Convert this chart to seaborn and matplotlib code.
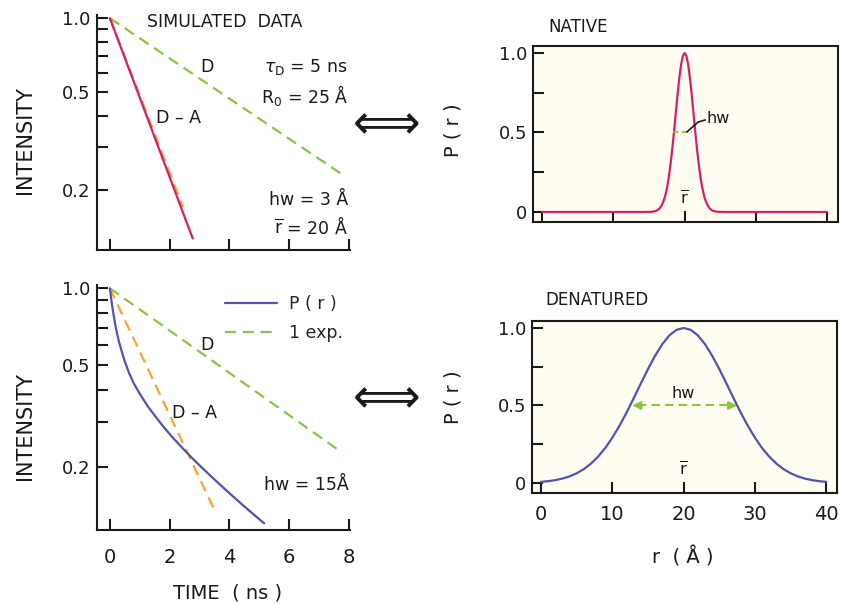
import matplotlib
matplotlib.use("Agg")
import matplotlib.pyplot as plt
import seaborn as sns

sns.set_style("ticks")
plt.rcParams['font.family'] = ['DejaVu Sans']
plt.rcParams['mathtext.fontset'] = 'dejavusans'

# ---------------- data ----------------
# top-left: simulated decays, narrow distribution (hw = 3 A)
t_D_top = [0.0, 7.8]
I_D_top = [1.0, 0.23]
t_DA_top = [0.0, 1.0, 2.77]
I_DA_top = [1.0, 0.475, 0.127]
t_exp_top = [0.0, 2.45]
I_exp_top = [1.0, 0.17]

# bottom-left: broad distribution (hw = 15 A)
t_D_bot = [0.0, 7.72]
I_D_bot = [1.0, 0.229]
t_Pr_bot = [0.0, 0.05, 0.1, 0.2, 0.3, 0.48, 0.65, 0.81, 1.0, 1.26, 1.48, 1.75,
            2.04, 2.35, 2.71, 3.05, 3.38, 3.72, 4.05, 4.4, 4.72, 5.16]
I_Pr_bot = [1.0, 0.900, 0.820, 0.700, 0.620, 0.524, 0.463, 0.422, 0.386, 0.346, 0.3195,
            0.291, 0.265, 0.242, 0.2185, 0.1997, 0.1836, 0.1686, 0.1555, 0.143, 0.1327,
            0.120]
t_exp_bot = [0.0, 3.49]
I_exp_bot = [1.0, 0.136]

# top-right: native P(r)
r_nat = [0, 14, 15, 15.5, 16, 16.25, 16.5, 16.75, 17, 17.25, 17.5, 17.75, 18, 18.25,
         18.5, 18.75, 19, 19.25, 19.5, 19.75, 20,
         20.25, 20.5, 20.75, 21, 21.25, 21.5, 21.75, 22, 22.25, 22.5, 22.75, 23,
         23.25, 23.5, 23.75, 24, 24.5, 25, 26, 40]
P_nat = [0, 0, 0.0005, 0.002, 0.007, 0.013, 0.023, 0.039, 0.063, 0.097, 0.146, 0.210,
         0.292, 0.389, 0.5, 0.618, 0.735, 0.841, 0.926, 0.981, 1.0,
         0.981, 0.926, 0.841, 0.735, 0.618, 0.5, 0.389, 0.292, 0.210, 0.146, 0.097, 0.063,
         0.039, 0.023, 0.013, 0.007, 0.002, 0.0005, 0, 0]

# bottom-right: denatured P(r)
r_den = list(range(0, 41))
P_den = [0.0072, 0.0117, 0.0185, 0.0284, 0.0427, 0.0625, 0.0894, 0.125, 0.170, 0.225,
         0.292, 0.369, 0.454, 0.547, 0.642, 0.735, 0.821, 0.895, 0.952, 0.988,
         1.0,
         0.988, 0.952, 0.895, 0.821, 0.735, 0.642, 0.547, 0.454, 0.369, 0.292,
         0.225, 0.170, 0.125, 0.0894, 0.0625, 0.0427, 0.0284, 0.0185, 0.0117, 0.0072]

time_ticks = [0, 2, 4, 6, 8]
int_ticks = [1.0, 0.5, 0.2]
int_ticklabels = ["1.0", "0.5", "0.2"]
int_minor = [0.3, 0.4, 0.6, 0.7, 0.8, 0.9]
r_ticks = [0, 10, 20, 30, 40]
p_ticks = [0, 0.25, 0.5, 0.75, 1.0]
p_ticklabels = ["0", "", "0.5", "", "1.0"]

# ---------------- style ----------------
PINK = "#d81e68"
BLUE = "#5352b0"
GREEN = "#8cc43f"
ORANGE = "#f6a532"
CREAM = "#fffdf2"
DASH = (0, (5, 3))
LW = 1.6

W, H = 847, 604
fig = plt.figure(figsize=(W / 100, H / 100), dpi=100)
fig.patch.set_facecolor("white")


def fax(x0, y0, x1, y1):
    return fig.add_axes([x0 / W, 1 - y1 / H, (x1 - x0) / W, (y1 - y0) / H])


def ftext(x, y, s, **kw):
    kw.setdefault("color", "#1a1a1a")
    fig.text(x / W, 1 - y / H, s, **kw)


def style_time_axes(ax, labels):
    ax.set_yscale("log")
    ax.set_xlim(-0.43, 8.03)
    ax.set_facecolor("white")
    for s in ["top", "right"]:
        ax.spines[s].set_visible(False)
    for s in ["left", "bottom"]:
        ax.spines[s].set_linewidth(1.5)
        ax.spines[s].set_color("#1a1a1a")
    ax.set_xticks(time_ticks)
    ax.set_yticks(int_ticks)
    ax.set_yticklabels(int_ticklabels)
    ax.set_yticks(int_minor, minor=True)
    ax.yaxis.set_minor_formatter(plt.NullFormatter())
    ax.tick_params(which="both", direction="in", length=8, width=1.5, colors="#1a1a1a",
                   labelsize=13)
    ax.tick_params(axis="y", pad=5)
    if labels:
        ax.tick_params(axis="x", pad=13, labelsize=14)
    else:
        ax.set_xticklabels([])
    ax.set_xlabel("")
    ax.set_ylabel("")


def style_r_axes(ax, labels):
    ax.set_facecolor(CREAM)
    for s in ax.spines.values():
        s.set_linewidth(1.5)
        s.set_color("#1a1a1a")
    ax.set_xticks(r_ticks)
    ax.set_yticks(p_ticks)
    ax.set_yticklabels(p_ticklabels)
    ax.tick_params(which="both", direction="in", length=8, width=1.5, colors="#1a1a1a",
                   labelsize=13)
    ax.tick_params(axis="y", pad=4)
    if labels:
        ax.tick_params(axis="x", pad=9, labelsize=14)
    else:
        ax.set_xticklabels([])
    ax.set_xlabel("")
    ax.set_ylabel("")


# ---------------- top-left ----------------
ax1 = fax(97, 15, 350, 250)
sns.lineplot(x=t_D_top, y=I_D_top, ax=ax1, color=GREEN, lw=LW, linestyle=DASH)
sns.lineplot(x=t_exp_top, y=I_exp_top, ax=ax1, color=ORANGE, lw=LW, linestyle=DASH)
sns.lineplot(x=t_DA_top, y=I_DA_top, ax=ax1, color=PINK, lw=LW)
style_time_axes(ax1, labels=False)
ax1.set_ylim(0.114, 1.03)

# ---------------- bottom-left ----------------
ax2 = fax(97, 285, 350, 530)
sns.lineplot(x=t_D_bot, y=I_D_bot, ax=ax2, color=GREEN, lw=LW, linestyle=DASH)
sns.lineplot(x=t_exp_bot, y=I_exp_bot, ax=ax2, color=ORANGE, lw=LW, linestyle=DASH)
sns.lineplot(x=t_Pr_bot, y=I_Pr_bot, ax=ax2, color=BLUE, lw=LW)
style_time_axes(ax2, labels=True)
ax2.set_ylim(0.113, 1.03)
h_blue = ax2.lines[2]
h_green = ax2.lines[0]
ax2.legend([h_blue, h_green], ["P ( r )", "1 exp."], loc="upper left",
           bbox_to_anchor=((225 - 97) / 253, (530 - 295) / 245), frameon=False,
           borderpad=0, borderaxespad=0, handlelength=3.0, handletextpad=0.7,
           labelspacing=0.62, fontsize=12.5)

# ---------------- top-right ----------------
ax3 = fax(533, 46, 838, 222)
sns.lineplot(x=r_nat, y=P_nat, ax=ax3, color=PINK, lw=LW)
style_r_axes(ax3, labels=False)
ax3.set_xlim(-1.26, 41.5)
ax3.set_ylim(-0.063, 1.044)
ax3.plot([18.4, 21.0], [0.5, 0.5], color=GREEN, lw=1.3, linestyle=(0, (3, 2)))
ax3.plot([20.3, 21.9, 22.9], [0.503, 0.566, 0.579], color="#1a1a1a", lw=1.2)
ax3.text(23.0, 0.585, "hw", fontsize=11.5, va="center", ha="left", color="#1a1a1a")
ax3.text(20, 0.085, r"$\overline{\mathrm{r}}$", fontsize=11.5, ha="center", va="center",
         color="#1a1a1a")

# ---------------- bottom-right ----------------
ax4 = fax(532, 321, 837, 493)
sns.lineplot(x=r_den, y=P_den, ax=ax4, color=BLUE, lw=LW)
style_r_axes(ax4, labels=True)
ax4.set_xlim(-1.26, 41.5)
ax4.set_ylim(-0.0645, 1.045)
ax4.plot([13.6, 26.8], [0.5, 0.5], color=GREEN, lw=1.5, linestyle=(0, (4, 2.5)))
ax4.annotate("", xy=(12.8, 0.5), xytext=(14.2, 0.5),
             arrowprops=dict(arrowstyle="-|>", color=GREEN, lw=1.5,
                             mutation_scale=12, shrinkA=0, shrinkB=0))
ax4.annotate("", xy=(27.5, 0.5), xytext=(26.1, 0.5),
             arrowprops=dict(arrowstyle="-|>", color=GREEN, lw=1.5,
                             mutation_scale=12, shrinkA=0, shrinkB=0))
ax4.text(20, 0.58, "hw", fontsize=11.5, va="center", ha="center", color="#1a1a1a")
ax4.text(20, 0.085, r"$\overline{\mathrm{r}}$", fontsize=11.5, ha="center", va="center",
         color="#1a1a1a")

# ---------------- figure text ----------------
ftext(25, 140, "INTENSITY", fontsize=15, rotation=90, ha="center", va="center")
ftext(25, 426, "INTENSITY", fontsize=15, rotation=90, ha="center", va="center")
ftext(228, 593, "TIME  ( ns )", fontsize=14, ha="center", va="center")
ftext(453, 130, "P ( r )", fontsize=14, rotation=90, ha="center", va="center")
ftext(453, 397, "P ( r )", fontsize=14, rotation=90, ha="center", va="center")
ftext(683, 557, "r  ( Å )", fontsize=14, ha="center", va="center")

ftext(147, 22, "SIMULATED  DATA", fontsize=12.5, ha="left", va="center")
ftext(207, 67, "D", fontsize=12.5, ha="center", va="center")
ftext(348, 67, r"$\tau_{\mathrm{D}}$ = 5 ns", fontsize=12.5, ha="right", va="center")
ftext(348, 95, r"R$_0$ = 25 Å", fontsize=12.5, ha="right", va="center")
ftext(178, 118, "D – A", fontsize=12.5, ha="center", va="center")
ftext(348, 200, "hw = 3 Å", fontsize=12.5, ha="right", va="center")
ftext(348, 227, r"$\overline{\mathrm{r}}$ = 20 Å", fontsize=12.5, ha="right", va="center")

ftext(207, 345, "D", fontsize=12.5, ha="center", va="center")
ftext(194, 413, "D – A", fontsize=12.5, ha="center", va="center")
ftext(349, 485, "hw = 15Å", fontsize=12.5, ha="right", va="center")

ftext(548, 27, "NATIVE", fontsize=12, ha="left", va="center")
ftext(545, 300, "DENATURED", fontsize=12, ha="left", va="center")

ftext(387, 126, "⟺", fontsize=34, ha="center", va="center")
ftext(387, 400, "⟺", fontsize=34, ha="center", va="center")

fig.savefig("out.png", dpi=100, facecolor="white")
